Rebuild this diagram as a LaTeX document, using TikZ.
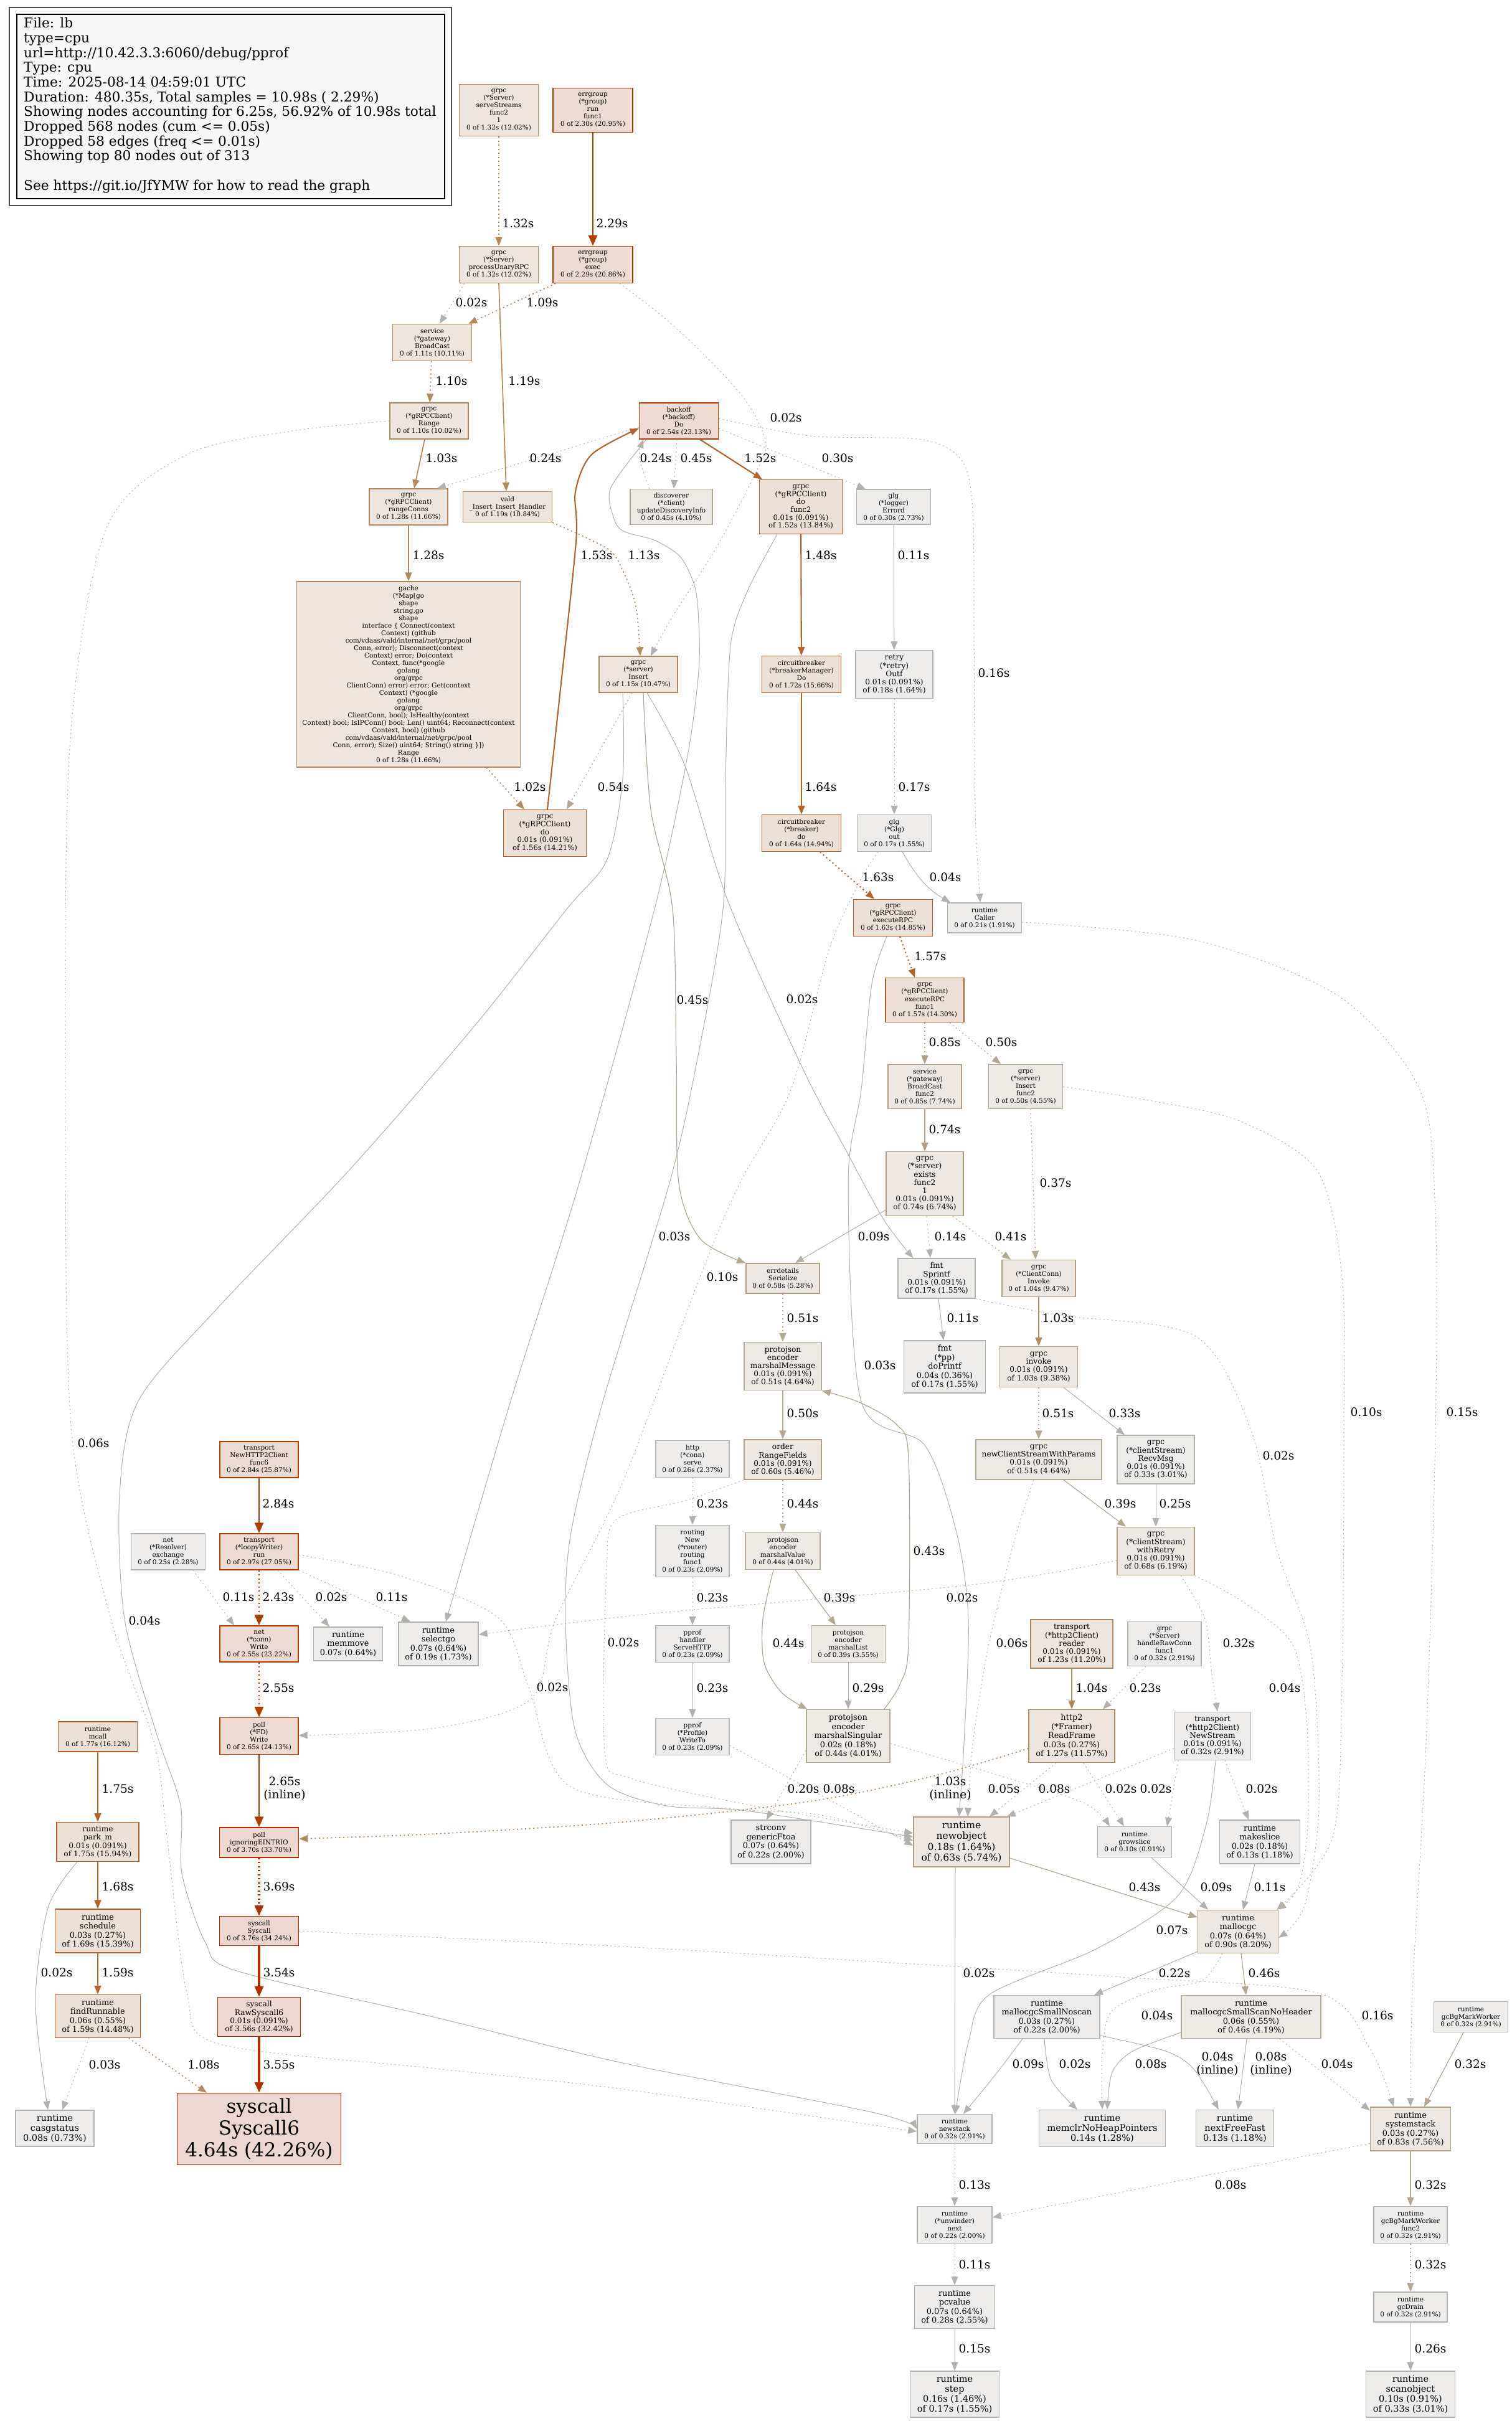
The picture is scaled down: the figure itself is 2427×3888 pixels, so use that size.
\documentclass[tikz,border=0pt]{standalone}
\usepackage{fontspec}
\setmainfont{DejaVu Serif}
\usetikzlibrary{arrows.meta}

\definecolor{N5d}{HTML}{B22C00}\definecolor{N5f}{HTML}{EDD7D0}
\definecolor{N4d}{HTML}{B23C00}\definecolor{N4f}{HTML}{EDDAD3}
\definecolor{N3d}{HTML}{B25F25}\definecolor{N3f}{HTML}{EDE0D7}
\definecolor{N2d}{HTML}{B2885A}\definecolor{N2f}{HTML}{EDE5DE}
\definecolor{N1d}{HTML}{B29E82}\definecolor{N1f}{HTML}{EDE8E3}
\definecolor{N0d}{HTML}{B2A996}\definecolor{N0f}{HTML}{EDEAE6}
\definecolor{Ngd}{HTML}{B2B2AF}\definecolor{Ngf}{HTML}{EDECEB}
\definecolor{E5}{HTML}{B23000}\definecolor{E4}{HTML}{B23D00}
\definecolor{E3}{HTML}{B2642B}\definecolor{E2}{HTML}{B28A5B}
\definecolor{E1}{HTML}{B29E82}\definecolor{E0}{HTML}{B2A893}
\definecolor{Eg}{HTML}{B2B1AE}

\tikzset{
  box/.style={draw, rectangle, align=center, inner sep=2pt, line width=1.4pt, text=black},
  n5/.style={box, draw=N5d, fill=N5f},
  n4/.style={box, draw=N4d, fill=N4f},
  n3/.style={box, draw=N3d, fill=N3f},
  n2/.style={box, draw=N2d, fill=N2f},
  n1/.style={box, draw=N1d, fill=N1f},
  n0/.style={box, draw=N0d, fill=N0f},
  ng/.style={box, draw=Ngd, fill=Ngf},
  fa/.style={font=\fontsize{10.5}{12}\selectfont},
  fab/.style={font=\fontsize{11.6}{12.7}\selectfont},
  fb/.style={font=\fontsize{12.2}{13.2}\selectfont},
  fc/.style={font=\fontsize{12.9}{14.5}\selectfont},
  fd/.style={font=\fontsize{14.5}{16}\selectfont},
  fe/.style={font=\fontsize{15.5}{17.3}\selectfont},
  fbig/.style={font=\fontsize{31}{35}\selectfont},
  legendtxt/.style={align=left, inner sep=0pt, font=\fontsize{21.7}{23.7}\selectfont},
  lbl/.style={font=\fontsize{18.6}{21}\selectfont, align=center, inner sep=0pt, text=black},
  ed/.style={-{Triangle[length=14pt,width=11pt]}},
  hd/.style={-{Triangle[length=17pt,width=14pt]}},
  dotl/.style={dash pattern=on 2pt off 4.5pt},
  eg/.style={ed, draw=Eg, line width=1pt},
  e0/.style={ed, draw=E0, line width=1.2pt},
  e1/.style={ed, draw=E1, line width=1.4pt},
  e2/.style={ed, draw=E2, line width=1.7pt},
  e3/.style={ed, draw=E3, line width=2.1pt},
  e4/.style={hd, draw=E4, line width=2.8pt},
  e5/.style={hd, draw=E5, line width=3.3pt},
}

\begin{document}
\begin{tikzpicture}[x=1pt, y=-1pt]
\useasboundingbox (0,0) rectangle (2427,3888);

% 图例
\draw[line width=1.5pt, draw=black!70] (15,12) rectangle (725,330);
\draw[line width=1.2pt, fill=black!3] (27,23) rectangle (714,319);
\node[legendtxt, anchor=north west] (legend) at (38,28) {File: lb\\type=cpu\\url=http://10.42.3.3:6060/debug/pprof\\Type: cpu\\Time: 2025-08-14 04:59:01 UTC\\Duration: 480.35s, Total samples = 10.98s ( 2.29\%)\\Showing nodes accounting for 6.25s, 56.92\% of 10.98s total\\Dropped 568 nodes (cum <= 0.05s)\\Dropped 58 edges (freq <= 0.01s)\\Showing top 80 nodes out of 313\\\mbox{}\\See https://git.io/JfYMW for how to read the graph};

% 节点
\node[n2, fa, minimum width=127pt, minimum height=83pt] (serveStreams) at (801,177) {grpc\\(*Server)\\serveStreams\\func2\\1\\0 of 1.32s (12.02\%)};
\node[n4, fa, minimum width=128pt, minimum height=71pt] (groupRun) at (952,177) {errgroup\\(*group)\\run\\func1\\0 of 2.30s (20.95\%)};
\node[n2, fa, minimum width=127pt, minimum height=59pt] (unaryRPC) at (801,425) {grpc\\(*Server)\\processUnaryRPC\\0 of 1.32s (12.02\%)};
\node[n4, fa, minimum width=128pt, minimum height=59pt] (groupExec) at (952,425) {errgroup\\(*group)\\exec\\0 of 2.29s (20.86\%)};
\node[n2, fa, minimum width=127pt, minimum height=59pt] (gwBroadCast) at (694,550) {service\\(*gateway)\\BroadCast\\0 of 1.11s (10.11\%)};
\node[n2, fa, minimum width=126pt, minimum height=58pt] (clientRange) at (689,676) {grpc\\(*gRPCClient)\\Range\\0 of 1.10s (10.02\%)};
\node[n4, fa, minimum width=127pt, minimum height=58pt] (backoffDo) at (1090,676) {backoff\\(*backoff)\\Do\\0 of 2.54s (23.13\%)};
\node[n2, fa, minimum width=126pt, minimum height=58pt] (rangeConns) at (656,814) {grpc\\(*gRPCClient)\\rangeConns\\0 of 1.28s (11.66\%)};
\node[n2, fa, minimum width=143pt, minimum height=49pt] (valdHandler) at (815,814) {vald\\\_Insert\_Insert\_Handler\\0 of 1.19s (10.84\%)};
\node[n0, fa, minimum width=132pt, minimum height=57pt] (discoverer) at (1078,814) {discoverer\\(*client)\\updateDiscoveryInfo\\0 of 0.45s (4.10\%)};
\node[n3, fab, minimum width=133pt, minimum height=87pt] (doFunc2) at (1286,814) {grpc\\(*gRPCClient)\\do\\func2\\0.01s (0.091\%)\\of 1.52s (13.84\%)};
\node[ng, fa, minimum width=119pt, minimum height=56pt] (glgErrord) at (1435,814) {glg\\(*logger)\\Errord\\0 of 0.30s (2.73\%)};
\node[n2, fa, inner sep=1pt, minimum width=359pt, minimum height=298pt] (gacheRange) at (656,1083) {gache\\(*Map[go\\shape\\string,go\\shape\\interface \{ Connect(context\\Context) (github\\com/vdaas/vald/internal/net/grpc/pool\\Conn, error); Disconnect(context\\Context) error; Do(context\\Context, func(*google\\golang\\org/grpc\\ClientConn) error) error; Get(context\\Context) (*google\\golang\\org/grpc\\ClientConn, bool); IsHealthy(context\\Context) bool; IsIPConn() bool; Len() uint64; Reconnect(context\\Context, bool) (github\\com/vdaas/vald/internal/net/grpc/pool\\Conn, error); Size() uint64; String() string \}])\\Range\\0 of 1.28s (11.66\%)};
\node[n2, fa, minimum width=126pt, minimum height=58pt] (serverInsert) at (1025,1083) {grpc\\(*server)\\Insert\\0 of 1.15s (10.47\%)};
\node[n3, fa, minimum width=127pt, minimum height=59pt] (breakerMgr) at (1287,1083) {circuitbreaker\\(*breakerManager)\\Do\\0 of 1.72s (15.66\%)};
\node[ng, fb, minimum width=124pt, minimum height=77pt] (retryOutf) at (1436,1083) {retry\\(*retry)\\Outf\\0.01s (0.091\%)\\of 0.18s (1.64\%)};
\node[n3, fab, minimum width=133pt, minimum height=75pt] (clientDo) at (875,1338) {grpc\\(*gRPCClient)\\do\\0.01s (0.091\%)\\of 1.56s (14.21\%)};
\node[n3, fa, minimum width=127pt, minimum height=59pt] (breakerDo) at (1287,1338) {circuitbreaker\\(*breaker)\\do\\0 of 1.64s (14.94\%)};
\node[ng, fa, minimum width=119pt, minimum height=59pt] (glgOut) at (1436,1338) {glg\\(*Glg)\\out\\0 of 0.17s (1.55\%)};
\node[n3, fa, minimum width=127pt, minimum height=59pt] (executeRPC) at (1434,1474) {grpc\\(*gRPCClient)\\executeRPC\\0 of 1.63s (14.85\%)};
\node[ng, fa, minimum width=119pt, minimum height=48pt] (rtCaller) at (1581,1474) {runtime\\Caller\\0 of 0.21s (1.91\%)};
\node[n3, fa, minimum width=126pt, minimum height=71pt] (executeFunc1) at (1485,1606) {grpc\\(*gRPCClient)\\executeRPC\\func1\\0 of 1.57s (14.30\%)};
\node[n1, fa, minimum width=118pt, minimum height=71pt] (bcastFunc2) at (1485,1745) {service\\(*gateway)\\BroadCast\\func2\\0 of 0.85s (7.74\%)};
\node[n0, fa, minimum width=119pt, minimum height=71pt] (insertFunc2) at (1647,1745) {grpc\\(*server)\\Insert\\func2\\0 of 0.50s (4.55\%)};
\node[n1, fb, minimum width=124pt, minimum height=103pt] (existsFunc2) at (1485,1901) {grpc\\(*server)\\exists\\func2\\1\\0.01s (0.091\%)\\of 0.74s (6.74\%)};
\node[n1, fa, minimum width=118pt, minimum height=48pt] (errSerialize) at (1257,2053) {errdetails\\Serialize\\0 of 0.58s (5.28\%)};
\node[ng, fb, minimum width=124pt, minimum height=64pt] (fmtSprintf) at (1504,2053) {fmt\\Sprintf\\0.01s (0.091\%)\\of 0.17s (1.55\%)};
\node[n1, fa, minimum width=118pt, minimum height=59pt] (ccInvoke) at (1668,2053) {grpc\\(*ClientConn)\\Invoke\\0 of 1.04s (9.47\%)};
\node[n0, fb, minimum width=124pt, minimum height=77pt] (marshalMsg) at (1257,2194) {protojson\\encoder\\marshalMessage\\0.01s (0.091\%)\\of 0.51s (4.64\%)};
\node[ng, fc, minimum width=131pt, minimum height=84pt] (doPrintf) at (1517,2195) {fmt\\(*pp)\\doPrintf\\0.04s (0.36\%)\\of 0.17s (1.55\%)};
\node[n1, fb, minimum width=125pt, minimum height=65pt] (grpcInvoke) at (1668,2195) {grpc\\invoke\\0.01s (0.091\%)\\of 1.03s (9.38\%)};
\node[ng, fa, minimum width=118pt, minimum height=59pt] (httpServe) at (1112,2343) {http\\(*conn)\\serve\\0 of 0.26s (2.37\%)};
\node[n1, fb, minimum width=124pt, minimum height=64pt] (rangeFields) at (1257,2344) {order\\RangeFields\\0.01s (0.091\%)\\of 0.60s (5.46\%)};
\node[n0, fb, minimum width=202pt, minimum height=64pt] (newStreamParams) at (1668,2344) {grpc\\newClientStreamWithParams\\0.01s (0.091\%)\\of 0.51s (4.64\%)};
\node[ng, fb, minimum width=124pt, minimum height=78pt] (recvMsg) at (1856,2344) {grpc\\(*clientStream)\\RecvMsg\\0.01s (0.091\%)\\of 0.33s (3.01\%)};
\node[ng, fa, minimum width=118pt, minimum height=83pt] (routerFunc1) at (1112,2491) {routing\\New\\(*router)\\routing\\func1\\0 of 0.23s (2.09\%)};
\node[n0, fa, minimum width=120pt, minimum height=59pt] (marshalValue) at (1257,2491) {protojson\\encoder\\marshalValue\\0 of 0.44s (4.01\%)};
\node[n1, fb, minimum width=124pt, minimum height=77pt] (withRetry) at (1856,2491) {grpc\\(*clientStream)\\withRetry\\0.01s (0.091\%)\\of 0.68s (6.19\%)};
\node[ng, fa, minimum width=118pt, minimum height=59pt] (pprofHandler) at (1112,2640) {pprof\\handler\\ServeHTTP\\0 of 0.23s (2.09\%)};
\node[n0, fa, minimum width=119pt, minimum height=59pt] (marshalList) at (1362,2640) {protojson\\encoder\\marshalList\\0 of 0.39s (3.55\%)};
\node[n2, fb, minimum width=132pt, minimum height=78pt] (h2Reader) at (1721,2640) {transport\\(*http2Client)\\reader\\0.01s (0.091\%)\\of 1.23s (11.20\%)};
\node[ng, fa, minimum width=118pt, minimum height=71pt] (rawConn) at (1870,2640) {grpc\\(*Server)\\handleRawConn\\func1\\0 of 0.32s (2.91\%)};
\node[n4, fa, minimum width=126pt, minimum height=58pt] (newH2Client) at (416,2344) {transport\\NewHTTP2Client\\func6\\0 of 2.84s (25.87\%)};
\node[ng, fa, minimum width=119pt, minimum height=58pt] (resolver) at (270,2492) {net\\(*Resolver)\\exchange\\0 of 0.25s (2.28\%)};
\node[n4, fa, minimum width=126pt, minimum height=58pt] (loopyWriter) at (416,2492) {transport\\(*loopyWriter)\\run\\0 of 2.97s (27.05\%)};
\node[n4, fa, minimum width=126pt, minimum height=58pt] (connWrite) at (416,2640) {net\\(*conn)\\Write\\0 of 2.55s (23.22\%)};
\node[ng, fc, minimum width=111pt, minimum height=54pt] (memmove) at (559,2640) {runtime\\memmove\\0.07s (0.64\%)};
\node[ng, fc, minimum width=128pt, minimum height=70pt] (selectgo) at (704,2640) {runtime\\selectgo\\0.07s (0.64\%)\\of 0.19s (1.73\%)};
\node[ng, fa, minimum width=118pt, minimum height=59pt] (profWriteTo) at (1112,2789) {pprof\\(*Profile)\\WriteTo\\0 of 0.23s (2.09\%)};
\node[n0, fc, minimum width=134pt, minimum height=85pt] (marshalSingular) at (1362,2788) {protojson\\encoder\\marshalSingular\\0.02s (0.18\%)\\of 0.44s (4.01\%)};
\node[n2, fc, minimum width=138pt, minimum height=85pt] (readFrame) at (1721,2788) {http2\\(*Framer)\\ReadFrame\\0.03s (0.27\%)\\of 1.27s (11.57\%)};
\node[ng, fb, minimum width=123pt, minimum height=77pt] (newStream) at (1947,2788) {transport\\(*http2Client)\\NewStream\\0.01s (0.091\%)\\of 0.32s (2.91\%)};
\node[n3, fa, minimum width=127pt, minimum height=48pt] (mcall) at (157,2789) {runtime\\mcall\\0 of 1.77s (16.12\%)};
\node[n4, fa, minimum width=126pt, minimum height=59pt] (fdWrite) at (416,2788) {poll\\(*FD)\\Write\\0 of 2.65s (24.13\%)};
\node[ng, fc, minimum width=128pt, minimum height=70pt] (genericFtoa) at (1238,2958) {strconv\\genericFtoa\\0.07s (0.64\%)\\of 0.22s (2.00\%)};
\node[n1, fe, minimum width=154pt, minimum height=80pt] (newobject) at (1544,2958) {runtime\\newobject\\0.18s (1.64\%)\\of 0.63s (5.74\%)};
\node[ng, fa, minimum width=119pt, minimum height=49pt] (growslice) at (1822,2958) {runtime\\growslice\\0 of 0.10s (0.91\%)};
\node[ng, fc, minimum width=129pt, minimum height=70pt] (makeslice) at (2023,2958) {runtime\\makeslice\\0.02s (0.18\%)\\of 0.13s (1.18\%)};
\node[n3, fb, minimum width=132pt, minimum height=63pt] (parkM) at (157,2958) {runtime\\park\_m\\0.01s (0.091\%)\\of 1.75s (15.94\%)};
\node[n5, fa, minimum width=127pt, minimum height=48pt] (ignoreEINTR) at (416,2959) {poll\\ignoringEINTRIO\\0 of 3.70s (33.70\%)};
\node[n3, fc, minimum width=137pt, minimum height=70pt] (schedule) at (157,3101) {runtime\\schedule\\0.03s (0.27\%)\\of 1.69s (15.39\%)};
\node[n5, fa, minimum width=127pt, minimum height=47pt] (sysSyscall) at (416,3101) {syscall\\Syscall\\0 of 3.76s (34.24\%)};
\node[n3, fc, minimum width=137pt, minimum height=69pt] (findRunnable) at (157,3238) {runtime\\findRunnable\\0.06s (0.55\%)\\of 1.59s (14.48\%)};
\node[n5, fb, minimum width=133pt, minimum height=63pt] (rawSyscall6) at (416,3239) {syscall\\RawSyscall6\\0.01s (0.091\%)\\of 3.56s (32.42\%)};
\node[ng, fd, minimum width=126pt, minimum height=58pt] (casgstatus) at (88,3418) {runtime\\casgstatus\\0.08s (0.73\%)};
\node[n5, fbig, minimum width=263pt, minimum height=115pt] (syscall6) at (416,3419) {syscall\\Syscall6\\4.64s (42.26\%)};
\node[n1, fc, minimum width=129pt, minimum height=69pt] (mallocgc) at (1988,3102) {runtime\\mallocgc\\0.07s (0.64\%)\\of 0.90s (8.20\%)};
\node[ng, fc, minimum width=170pt, minimum height=69pt] (smallNoscan) at (1681,3239) {runtime\\mallocgcSmallNoscan\\0.03s (0.27\%)\\of 0.22s (2.00\%)};
\node[n0, fc, minimum width=224pt, minimum height=69pt] (smallScan) at (2009,3239) {runtime\\mallocgcSmallScanNoHeader\\0.06s (0.55\%)\\of 0.46s (4.19\%)};
\node[ng, fa, minimum width=119pt, minimum height=49pt] (bgMarkWorker) at (2362,3239) {runtime\\gcBgMarkWorker\\0 of 0.32s (2.91\%)};
\node[ng, fa, minimum width=120pt, minimum height=47pt] (newstack) at (1533,3419) {runtime\\newstack\\0 of 0.32s (2.91\%)};
\node[ng, fd, minimum width=203pt, minimum height=59pt] (memclr) at (1770,3418) {runtime\\memclrNoHeapPointers\\0.14s (1.28\%)};
\node[ng, fd, minimum width=125pt, minimum height=59pt] (nextFreeFast) at (1983,3418) {runtime\\nextFreeFast\\0.13s (1.18\%)};
\node[n1, fc, minimum width=129pt, minimum height=70pt] (systemstack) at (2265,3419) {runtime\\systemstack\\0.03s (0.27\%)\\of 0.83s (7.56\%)};
\node[ng, fa, minimum width=120pt, minimum height=59pt] (unwinderNext) at (1533,3573) {runtime\\(*unwinder)\\next\\0 of 0.22s (2.00\%)};
\node[ng, fa, minimum width=118pt, minimum height=59pt] (bgWorkerFunc2) at (2265,3573) {runtime\\gcBgMarkWorker\\func2\\0 of 0.32s (2.91\%)};
\node[ng, fc, minimum width=129pt, minimum height=69pt] (pcvalue) at (1533,3705) {runtime\\pcvalue\\0.07s (0.64\%)\\of 0.28s (2.55\%)};
\node[ng, fa, minimum width=118pt, minimum height=48pt] (gcDrain) at (2265,3705) {runtime\\gcDrain\\0 of 0.32s (2.91\%)};
\node[ng, fd, minimum width=143pt, minimum height=74pt] (rtStep) at (1533,3845) {runtime\\step\\0.16s (1.46\%)\\of 0.17s (1.55\%)};
\node[ng, fd, minimum width=143pt, minimum height=74pt] (scanobject) at (2265,3845) {runtime\\scanobject\\0.10s (0.91\%)\\of 0.33s (3.01\%)};

% 上部连线
\draw[e2, dotl] (serveStreams) -- (unaryRPC) node[lbl] at (832,359) {1.32s};
\draw[e4] (groupRun) -- (groupExec) node[lbl] at (983,359) {2.29s};
\draw[eg, dotl] ([xshift=9pt]unaryRPC.south west) -- ([xshift=12pt]gwBroadCast.north) node[lbl] at (757,486) {0.02s};
\draw[e2] (unaryRPC.south) -- ([xshift=-2pt]valdHandler.north) node[lbl] at (842,612) {1.19s};
\draw[e2, dotl] ([xshift=5pt]groupExec.south west) -- ([xshift=-6pt]gwBroadCast.north east) node[lbl] at (871,486) {1.09s};
\draw[eg, dotl] plot[smooth] coordinates {([xshift=43pt]groupExec.south) (1059,504) (1122,561) (1195,640) (1230,712) (1208,770) (1150,880) (1080,990) ([xshift=20pt]serverInsert.north)} node[lbl] at (1262,671) {0.02s};
\draw[e2, dotl] (gwBroadCast) -- (clientRange) node[lbl] at (725,612) {1.10s};
\draw[e2] ([xshift=-7pt]clientRange.south) -- ([xshift=9pt]rangeConns.north) node[lbl] at (709,736) {1.03s};
\draw[eg, dotl] ([yshift=-10pt]backoffDo.west) -- ([xshift=46pt]rangeConns.north) node[lbl] at (876,736) {0.24s};
\draw[eg, dotl] ([xshift=-35pt]discoverer.north) to[out=110, in=-110] ([xshift=-57pt]backoffDo.south) node[lbl] at (1053,736) {0.24s};
\draw[eg, dotl] ([xshift=-3pt]backoffDo.south) -- ([xshift=4pt]discoverer.north) node[lbl] at (1118,736) {0.45s};
\draw[e3] ([xshift=34pt]backoffDo.south) -- ([xshift=-62pt]doFunc2.north) node[lbl] at (1221,736) {1.52s};
\draw[eg, dotl] ([yshift=-12pt]backoffDo.east) -- ([xshift=-45pt]glgErrord.north) node[lbl] at (1345,736) {0.30s};
\draw[eg, dotl] plot[smooth] coordinates {([yshift=4pt]backoffDo.east) (1300,700) (1480,706) (1545,740) (1562,820) (1564,1000) (1566,1300) ([xshift=-7pt]rtCaller.north)} node[lbl] at (1596,1081) {0.16s};
\draw[eg] plot[smooth] coordinates {([xshift=-52pt]backoffDo.south) (981,783) (985,830) (1001,853) (1052,868) (1093,895) (1116,943) (1122,1000) (1122,1077) (1104,1214) (1051,1460) (930,1900) (820,2250) ([xshift=12pt]selectgo.north)};
\draw[e2] (rangeConns) -- (gacheRange) node[lbl] at (688,892) {1.28s};
\draw[e2, dotl] plot[smooth] coordinates {(valdHandler.south east) (975,881) (1000,916) (1021,973) ([xshift=3pt]serverInsert.north)} node[lbl] at (1034,892) {1.13s};
\draw[e2, dotl] ([xshift=125pt]gacheRange.south) -- ([xshift=-33pt]clientDo.north) node[lbl] at (851,1264) {1.02s};
\draw[e0, dotl] ([xshift=-10pt]serverInsert.south) -- ([xshift=35pt]clientDo.north) node[lbl] at (985,1264) {0.54s};
\draw[e3] plot[smooth] coordinates {([xshift=4pt]clientDo.north) (897,1134) (925,870) (924,790) (950,730) ([yshift=-12pt]backoffDo.west)} node[lbl] at (958,892) {1.53s};
\draw[e3] (doFunc2) -- (breakerMgr) node[lbl] at (1318,892) {1.48s};
\draw[eg] plot[smooth] coordinates {([xshift=-38pt]doFunc2.south) (1200,950) (1173,1038) (1165,1250) (1161,1460) (1120,1700) (1075,1900) (968,2251) (917,2461) (908,2601) (923,2777) (975,2866) (1070,2900) (1198,2908) ([yshift=8pt]newobject.west)} node[lbl] at (1083,1986) {0.03s};
\draw[eg] (glgErrord) -- (retryOutf) node[lbl] at (1467,892) {0.11s};
\draw[eg, dotl] (retryOutf) -- (glgOut) node[lbl] at (1468,1264) {0.17s};
\draw[eg] ([xshift=13pt]glgOut.south) to[out=-60, in=150] ([xshift=-55pt]rtCaller.north) node[lbl] at (1518,1409) {0.04s};
\draw[eg, dotl] plot[smooth] coordinates {([xshift=-26pt]glgOut.south) (1383,1411) (1331,1526) (1270,1750) (1188,1900) (1124,2051) (1000,2380) (892,2601) (853,2728) (700,2775) ([yshift=1pt]fdWrite.east)} node[lbl] at (1160,2051) {0.10s};
\draw[e3] (breakerMgr) -- (breakerDo) node[lbl] at (1318,1264) {1.64s};
\draw[e3, dotl] ([xshift=30pt]breakerDo.south) -- ([xshift=-30pt]executeRPC.north) node[lbl] at (1410,1409) {1.63s};
\draw[e3, dotl] ([xshift=11pt]executeRPC.south) -- ([xshift=-16pt]executeFunc1.north) node[lbl] at (1494,1536) {1.57s};
\draw[eg] plot[smooth] coordinates {([xshift=-10pt]executeRPC.south) (1400,1580) (1383,1750) (1362,1900) (1383,2251) (1485,2321) (1536,2461) (1555,2601) (1548,2800) ([xshift=-4pt]newobject.north)} node[lbl] at (1413,2193) {0.03s};
\draw[eg, dotl] plot[smooth] coordinates {(clientRange.west) (470,692) (300,730) (170,850) (112,1200) (105,1800) (115,2300) (178,2600) (248,2800) (268,2950) (300,3200) (350,3282) (700,3322) (1000,3355) ([yshift=-4pt]newstack.west)} node[lbl] at (150,2318) {0.06s};
\draw[eg] plot[smooth] coordinates {([xshift=-25pt]serverInsert.south) (1000,1250) (975,1380) (910,1460) (760,1650) (560,1880) (350,2100) (222,2250) (192,2400) (200,2600) (250,2780) (290,2900) (292,3008) (330,3120) (380,3165) (700,3240) (1000,3313) (1400,3392) (newstack.west)} node[lbl] at (232,2603) {0.04s};

% 中部连线
\draw[e1, dotl] (executeFunc1) -- (bcastFunc2) node[lbl] at (1517,1674) {0.85s};
\draw[e0, dotl] ([xshift=40pt]executeFunc1.south) -- ([xshift=-40pt]insertFunc2.north) node[lbl] at (1608,1674) {0.50s};
\draw[e1] (bcastFunc2) -- (existsFunc2) node[lbl] at (1517,1814) {0.74s};
\draw[e0, dotl] ([xshift=8pt]insertFunc2.south) -- ([xshift=-5pt]ccInvoke.north) node[lbl] at (1695,1900) {0.37s};
\draw[eg, dotl] plot[smooth] coordinates {(insertFunc2.east) (1850,1768) (1990,1800) (2115,1880) (2155,2050) (2158,2300) (2155,2700) (2140,2950) ([xshift=-3pt]mallocgc.north east)} node[lbl] at (2194,2268) {0.10s};
\draw[eg] ([yshift=10pt]existsFunc2.south west) -- ([xshift=20pt]errSerialize.north) node[lbl] at (1403,1986) {0.09s};
\draw[eg, dotl] ([xshift=3pt]existsFunc2.south) -- ([xshift=-10pt]fmtSprintf.north) node[lbl] at (1526,1986) {0.14s};
\draw[e0, dotl] ([xshift=45pt]existsFunc2.south) -- ([xshift=-45pt]ccInvoke.north) node[lbl] at (1623,1986) {0.41s};
\draw[e0] plot[smooth] coordinates {([xshift=8pt]serverInsert.south) (1045,1300) (1080,1460) (1086,1700) (1090,1900) (1125,1990) (errSerialize.north west)} node[lbl] at (1112,1606) {0.45s};
\draw[eg] plot[smooth] coordinates {([xshift=14pt]serverInsert.south) (1100,1230) (1170,1450) (1290,1718) (1361,1852) (1420,1960) ([xshift=25pt]fmtSprintf.north west)} node[lbl] at (1288,1605) {0.02s};
\draw[e0, dotl] (errSerialize) -- (marshalMsg) node[lbl] at (1289,2117) {0.51s};
\draw[eg] ([xshift=3pt]fmtSprintf.south) -- ([xshift=-2pt]doPrintf.north) node[lbl] at (1546,2117) {0.11s};
\draw[eg, dotl] plot[smooth] coordinates {(fmtSprintf.south east) (1700,2112) (1920,2146) (2010,2300) (2050,2488) (2105,2650) (2118,2900) (2095,3060) ([yshift=-10pt]mallocgc.east)} node[lbl] at (2053,2338) {0.02s};
\draw[e2] (ccInvoke) -- (grpcInvoke) node[lbl] at (1699,2117) {1.03s};
\draw[e0] (marshalMsg) -- (rangeFields) node[lbl] at (1289,2270) {0.50s};
\draw[e0, dotl] (grpcInvoke) -- (newStreamParams) node[lbl] at (1699,2270) {0.51s};
\draw[eg] ([xshift=40pt]grpcInvoke.south) -- ([xshift=-50pt]recvMsg.north) node[lbl] at (1806,2270) {0.33s};
\draw[eg, dotl] (httpServe) -- (routerFunc1) node[lbl] at (1144,2415) {0.23s};
\draw[e0, dotl] (rangeFields) -- (marshalValue) node[lbl] at (1289,2415) {0.44s};
\draw[eg, dotl] plot[smooth] coordinates {(rangeFields.south west) (1100,2410) (990,2440) (974,2520) (971,2812) (1010,2855) (1200,2898) ([yshift=14pt]newobject.west)} node[lbl] at (1001,2638) {0.02s};
\draw[e0] ([xshift=40pt]newStreamParams.south) -- ([xshift=-48pt]withRetry.north) node[lbl] at (1799,2415) {0.39s};
\draw[eg, dotl] plot[smooth] coordinates {([xshift=-8pt]newStreamParams.south) (1630,2470) (1588,2640) (1562,2800) ([xshift=10pt]newobject.north)} node[lbl] at (1625,2639) {0.06s};
\draw[eg] (recvMsg) -- (withRetry) node[lbl] at (1887,2415) {0.25s};
\draw[eg, dotl] (routerFunc1) -- (pprofHandler) node[lbl] at (1144,2566) {0.23s};
\draw[e0] ([xshift=20pt]marshalValue.south) -- ([xshift=-20pt]marshalList.north) node[lbl] at (1348,2566) {0.39s};
\draw[e0] plot[smooth] coordinates {([xshift=-15pt]marshalValue.south) (1225,2600) (1227,2670) (1255,2718) ([xshift=2pt]marshalSingular.north west)} node[lbl] at (1266,2639) {0.44s};
\draw[e0] plot[smooth] coordinates {([xshift=-10pt]marshalSingular.north east) (1445,2705) (1459,2640) (1459,2342) (1440,2288) (1380,2252) (marshalMsg.south east)} node[lbl] at (1492,2491) {0.43s};
\draw[eg, dotl] plot[smooth] coordinates {([yshift=-15pt]withRetry.west) (1560,2545) (1050,2591) ([yshift=15pt]selectgo.east)} node[lbl] at (1545,2566) {0.02s};
\draw[eg, dotl] plot[smooth] coordinates {([xshift=40pt]withRetry.south) (1935,2600) (1945,2680) ([xshift=8pt]newStream.north)} node[lbl] at (1989,2639) {0.32s};
\draw[eg, dotl] plot[smooth] coordinates {(withRetry.south east) (1995,2572) (2075,2640) (2098,2760) (2100,2930) (2085,3030) ([xshift=-2pt]mallocgc.north east)} node[lbl] at (2063,2711) {0.04s};
\draw[eg] (pprofHandler) -- (profWriteTo) node[lbl] at (1144,2711) {0.23s};
\draw[eg] (marshalList) -- (marshalSingular) node[lbl] at (1394,2711) {0.29s};
\draw[e2] (h2Reader) -- (readFrame) node[lbl] at (1753,2711) {1.04s};
\draw[eg, dotl] ([xshift=-30pt]rawConn.south) -- ([xshift=50pt]readFrame.north) node[lbl] at (1839,2711) {0.23s};

% 左下连线
\draw[e4] (newH2Client) -- (loopyWriter) node[lbl] at (447,2415) {2.84s};
\draw[eg, dotl] ([xshift=40pt]resolver.south) -- ([xshift=-40pt]connWrite.north) node[lbl] at (383,2565) {0.11s};
\draw[e4, dotl] (loopyWriter) -- (connWrite) node[lbl] at (447,2565) {2.43s};
\draw[eg, dotl] ([xshift=30pt]loopyWriter.south) -- ([xshift=-30pt]memmove.north) node[lbl] at (532,2565) {0.02s};
\draw[eg, dotl] (loopyWriter.south east) -- ([xshift=-45pt]selectgo.north) node[lbl] at (629,2565) {0.11s};
\draw[eg, dotl] plot[smooth] coordinates {([yshift=-5pt]loopyWriter.east) (640,2530) (800,2598) (850,2712) (917,2870) (1180,2905) (1320,2915) ([yshift=2pt]newobject.west)} node[lbl] at (887,2710) {0.02s};
\draw[e4, dotl] (connWrite) -- (fdWrite) node[lbl] at (447,2711) {2.55s};
\draw[e3] (mcall) -- (parkM) node[lbl] at (189,2873) {1.75s};
\draw[e4] (fdWrite) -- (ignoreEINTR) node[lbl] at (457,2873) {2.65s\\(inline)};
\draw[e2, dotl] plot[smooth] coordinates {([yshift=-20pt]readFrame.west) (1500,2852) (1300,2893) (1000,2926) (700,2945) ([yshift=6pt]ignoreEINTR.east)} node[lbl] at (1526,2873) {1.03s\\(inline)};
\draw[e3] (parkM) -- (schedule) node[lbl] at (189,3030) {1.68s};
\draw[eg] plot[smooth] coordinates {([xshift=-33pt]parkM.south) (77,3064) (57,3216) ([xshift=-11pt]casgstatus.north)} node[lbl] at (91,3168) {0.02s};
\draw[e3] (schedule) -- (findRunnable) node[lbl] at (189,3168) {1.59s};
\draw[eg, dotl] ([xshift=-14pt]findRunnable.south) -- ([xshift=12pt]casgstatus.north) node[lbl] at (168,3316) {0.03s};
\draw[e2, dotl] ([xshift=50pt]findRunnable.south) -- ([xshift=-84pt]syscall6.north) node[lbl] at (327,3316) {1.08s};
\draw[e5, dotl] (ignoreEINTR) -- (sysSyscall) node[lbl] at (448,3030) {3.69s};
\draw[e5] (sysSyscall) -- (rawSyscall6) node[lbl] at (448,3168) {3.54s};
\draw[e5] (rawSyscall6) -- (syscall6) node[lbl] at (448,3316) {3.55s};
\draw[eg, dotl] plot[smooth] coordinates {(sysSyscall.east) (1000,3126) (1400,3150) (1800,3175) (2118,3201) (2200,3290) ([xshift=-27pt]systemstack.north)} node[lbl] at (2212,3237) {0.16s};

% 右下连线
\draw[eg, dotl] ([yshift=-14pt]profWriteTo.east) -- ([yshift=-6pt]newobject.west) node[lbl] at (1347,2873) {0.08s};
\draw[eg, dotl] ([yshift=20pt]marshalSingular.south west) -- ([xshift=-7pt]genericFtoa.north) node[lbl] at (1290,2873) {0.20s};
\draw[eg, dotl] plot[smooth] coordinates {([yshift=-12pt]marshalSingular.east) (1600,2850) (1740,2895) ([xshift=-40pt]growslice.north)};
\draw[eg, dotl] ([xshift=-25pt]readFrame.south) -- ([xshift=45pt]newobject.north) node[lbl] at (1612,2873) {0.05s};
\draw[eg, dotl] ([yshift=-20pt]newStream.west) -- ([xshift=-5pt]newobject.north east) node[lbl] at (1693,2873) {0.08s};
\draw[eg, dotl] ([xshift=19pt]readFrame.south) -- ([xshift=-17pt]growslice.north) node[lbl] at (1800,2873) {0.02s};
\draw[eg, dotl] ([xshift=-55pt]newStream.south) -- ([xshift=-8pt]growslice.north east) node[lbl] at (1856,2873) {0.02s};
\draw[eg, dotl] ([xshift=20pt]newStream.south) -- ([xshift=-18pt]makeslice.north) node[lbl] at (2026,2873) {0.02s};
\draw[eg] ([xshift=27pt]growslice.south) -- ([xshift=-48pt]mallocgc.north) node[lbl] at (1953,3031) {0.09s};
\draw[eg] ([xshift=-8pt]makeslice.south) -- ([xshift=8pt]mallocgc.north) node[lbl] at (2039,3031) {0.11s};
\draw[e0] ([yshift=-26pt]newobject.east) -- ([yshift=23pt]mallocgc.west) node[lbl] at (1838,3031) {0.43s};
\draw[eg] ([xshift=-10pt]newobject.south) -- (newstack) node[lbl] at (1572,3169) {0.02s};
\draw[eg] plot[smooth] coordinates {([xshift=5pt]newStream.south) (1937,2930) (1891,3045) (1760,3130) (1589,3203) (1555,3280) ([xshift=1pt]newstack.north)} node[lbl] at (1882,3100) {0.07s};
\draw[eg] ([yshift=3pt]mallocgc.south west) -- ([xshift=76pt]smallNoscan.north) node[lbl] at (1886,3169) {0.22s};
\draw[e0] ([xshift=5pt]mallocgc.south) -- ([xshift=-8pt]smallScan.north) node[lbl] at (2030,3169) {0.46s};
\draw[eg, dotl] plot[smooth] coordinates {([xshift=-25pt]mallocgc.south) (1930,3181) (1858,3195) (1785,3230) (1770,3300) (memclr.north)} node[lbl] at (1858,3237) {0.04s};
\draw[eg] plot[smooth] coordinates {([xshift=-39pt]smallNoscan.south) (1600,3330) ([xshift=14pt]newstack.north)} node[lbl] at (1651,3315) {0.09s};
\draw[eg] plot[smooth] coordinates {([xshift=-4pt]smallNoscan.south) (1688,3340) ([xshift=-40pt]memclr.north)} node[lbl] at (1726,3315) {0.02s};
\draw[eg] plot[smooth] coordinates {([yshift=-30pt]smallNoscan.east) (1872,3294) (1917,3323) ([xshift=-26pt]nextFreeFast.north)} node[lbl] at (1955,3315) {0.04s\\(inline)};
\draw[eg] plot[smooth] coordinates {([yshift=-25pt]smallScan.west) (1819,3294) (1786,3328) ([xshift=8pt]memclr.north)} node[lbl] at (1848,3315) {0.08s};
\draw[eg] ([xshift=-7pt]smallScan.south) -- ([xshift=5pt]nextFreeFast.north) node[lbl] at (2041,3315) {0.08s\\(inline)};
\draw[eg, dotl] ([xshift=46pt]smallScan.south) -- ([yshift=-6pt]systemstack.north west) node[lbl] at (2147,3315) {0.04s};
\draw[e0] ([xshift=-12pt]bgMarkWorker.south) -- ([xshift=22pt]systemstack.north) node[lbl] at (2361,3315) {0.32s};
\draw[eg, dotl] plot[smooth] coordinates {([yshift=-7pt]rtCaller.east) (1920,1510) (2150,1600) (2280,1750) (2305,1950) (2305,2300) (2290,2800) (2268,3200) (systemstack.north)} node[lbl] at (2348,2268) {0.15s};
\draw[e0] (systemstack) -- (bgWorkerFunc2) node[lbl] at (2297,3509) {0.32s};
\draw[eg, dotl] ([yshift=-23pt]systemstack.west) -- ([yshift=12pt]unwinderNext.east) node[lbl] at (1976,3509) {0.08s};
\draw[eg, dotl] (newstack) -- (unwinderNext) node[lbl] at (1565,3509) {0.13s};
\draw[eg, dotl] (unwinderNext) -- (pcvalue) node[lbl] at (1565,3637) {0.11s};
\draw[eg] (pcvalue) -- (rtStep) node[lbl] at (1565,3772) {0.15s};
\draw[e0, dotl] (bgWorkerFunc2) -- (gcDrain) node[lbl] at (2297,3637) {0.32s};
\draw[eg] (gcDrain) -- (scanobject) node[lbl] at (2297,3772) {0.26s};
\end{tikzpicture}
\end{document}
